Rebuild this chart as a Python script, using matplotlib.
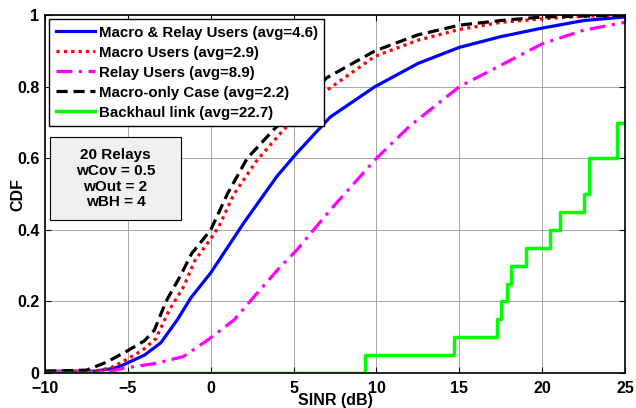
import matplotlib as mpl
mpl.use('Agg')
import matplotlib.pyplot as plt
from matplotlib.patches import Rectangle

# Macro & Relay users
x_all = [-10, -7, -6, -5.5, -4, -3, -2, -1.2, 0, 1, 2, 3, 4, 5.2, 7.2, 9.9, 12.5, 15, 17.5, 19.9, 22.5, 25]
y_all = [0.005, 0.005, 0.012, 0.018, 0.05, 0.085, 0.15, 0.21, 0.28, 0.35, 0.42, 0.485, 0.55, 0.615, 0.715, 0.80, 0.865, 0.91, 0.94, 0.963, 0.985, 0.995]

# Macro users
x_mac = [-10, -7, -6, -5.3, -4.1, -3.3, -2.5, -1.65, -0.95, 0, 0.5, 1.4, 2.8, 4.4, 6.7, 9.9, 12.5, 15, 17.5, 20, 22.5, 25]
y_mac = [0.003, 0.005, 0.015, 0.032, 0.064, 0.097, 0.176, 0.24, 0.315, 0.375, 0.41, 0.5, 0.595, 0.68, 0.78, 0.885, 0.93, 0.96, 0.98, 0.99, 0.997, 1.0]

# Relay users
x_rel = [-10, -6, -5.3, -3.3, -1.65, -0.25, 1.4, 2.8, 4.2, 5.2, 7.2, 10, 12, 15, 17.5, 20, 22.5, 25]
y_rel = [0.003, 0.005, 0.013, 0.027, 0.046, 0.09, 0.148, 0.223, 0.297, 0.344, 0.455, 0.6, 0.69, 0.8, 0.86, 0.92, 0.958, 0.98]

# Macro-only case
x_mo = [-10, -7.5, -6.3, -5.1, -4, -3.4, -2.7, -1.85, -1.15, 0, 1, 2.2, 3.8, 5, 7, 9.9, 12.5, 15, 17.5, 20, 25]
y_mo = [0.005, 0.008, 0.03, 0.06, 0.09, 0.12, 0.2, 0.27, 0.334, 0.4, 0.5, 0.6, 0.68, 0.735, 0.825, 0.9, 0.945, 0.972, 0.985, 0.995, 1.0]

# Backhaul link (step CDF)
x_bh = [-10, 9.3, 14.7, 17.3, 17.5, 17.9, 18.1, 19.0, 20.5, 21.1, 22.5, 22.8, 24.5, 25]
y_bh = [0, 0.05, 0.1, 0.15, 0.2, 0.25, 0.3, 0.35, 0.4, 0.45, 0.5, 0.6, 0.7, 0.7]

etiquetas = ['Macro & Relay Users (avg=4.6)', 'Macro Users (avg=2.9)',
             'Relay Users (avg=8.9)', 'Macro-only Case (avg=2.2)',
             'Backhaul link (avg=22.7)']
caixa = '20 Relays\nwCov = 0.5\nwOut = 2\nwBH = 4'

plt.rcParams['font.family'] = ['Liberation Sans', 'DejaVu Sans']
plt.rcParams['font.weight'] = 'bold'

fig = plt.figure(figsize=(6.36, 4.08), dpi=100)
ax = fig.add_axes([0.0708, 0.0858, 0.912, 0.877])

ax.plot(x_all, y_all, color='#0000ff', lw=2.3, label=etiquetas[0])
ax.plot(x_mac, y_mac, color='#ff0000', lw=2.3, ls=(0, (1, 1.3)), label=etiquetas[1])
ax.plot(x_rel, y_rel, color='#ff00ff', lw=2.3, ls=(0, (5, 2, 1, 2)), label=etiquetas[2])
ax.plot(x_mo, y_mo, color='black', lw=2.3, ls=(0, (3.5, 1.8)), label=etiquetas[3])
ax.plot(x_bh, y_bh, color='#00ff00', lw=2.5, drawstyle='steps-post', label=etiquetas[4])

ax.set_xlim(-10, 25)
ax.set_ylim(0, 1)
ax.set_xticks([-10, -5, 0, 5, 10, 15, 20, 25])
ax.set_yticks([0, 0.2, 0.4, 0.6, 0.8, 1])
ax.set_yticklabels(['0', '0.2', '0.4', '0.6', '0.8', '1'])
ax.tick_params(direction='in', top=True, right=True, labelsize=11.5, length=4)
ax.tick_params(axis='x', pad=6)
ax.tick_params(axis='y', pad=4)
for t in ax.get_xticklabels() + ax.get_yticklabels():
    t.set_fontweight('bold')
ax.grid(True, color='#a8a8a8', lw=0.7, ls='-')
for s in ax.spines.values():
    s.set_linewidth(1.2)

ax.set_xlabel('SINR (dB)', fontsize=11.5, fontweight='bold', va='center')
ax.xaxis.set_label_coords(0.5, -0.076)
ax.set_ylabel('CDF', fontsize=11.5, fontweight='bold', va='center')
ax.yaxis.set_label_coords(-0.047, 0.5)

leg = ax.legend(loc='upper left', bbox_to_anchor=(0.007, 0.99), fontsize=10.8,
                frameon=True, fancybox=False, edgecolor='black', framealpha=1,
                handlelength=2.6, handletextpad=0.25, borderpad=0.45, labelspacing=0.4,
                borderaxespad=0)
leg.get_frame().set_linewidth(1.0)

ax.add_patch(Rectangle((0.0086, 0.427), 0.226, 0.232, transform=ax.transAxes,
                       facecolor='#f0f0f0', edgecolor='black', lw=0.8, zorder=5))
ax.text(0.1216, 0.543, caixa, transform=ax.transAxes, ha='center', va='center',
        fontsize=11, fontweight='bold', linespacing=1.15, zorder=6)

fig.savefig('out.png', dpi=100)
